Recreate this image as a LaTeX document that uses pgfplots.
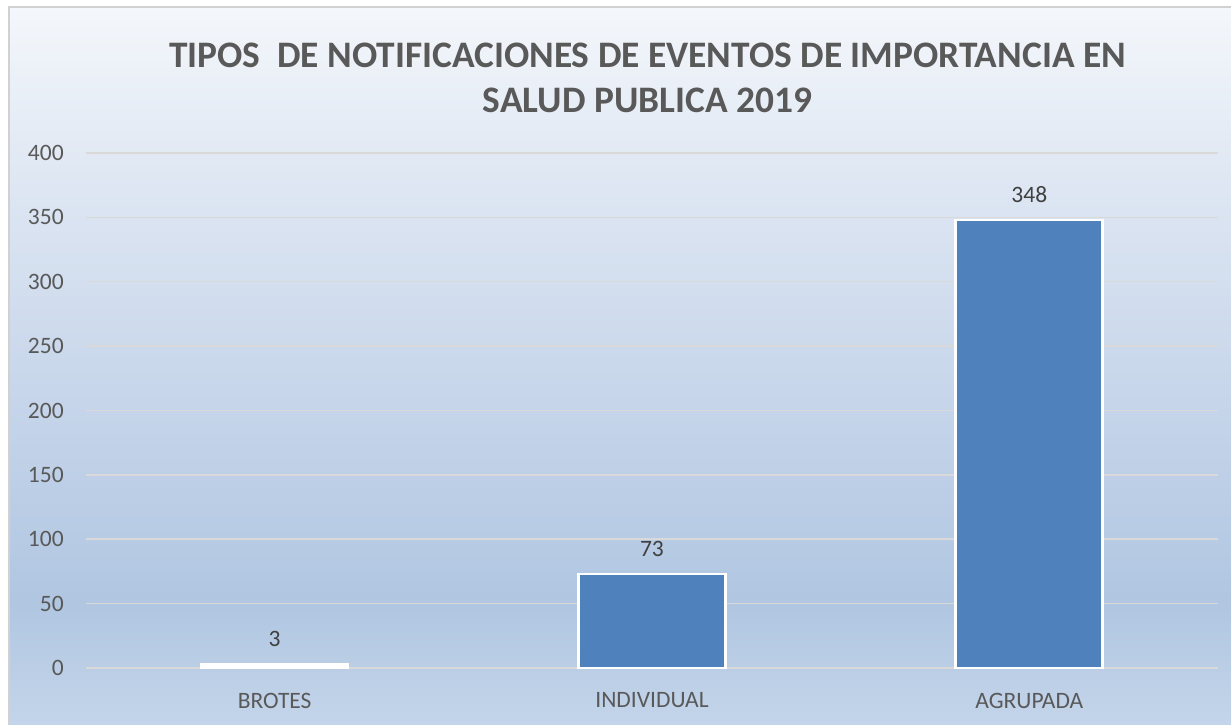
\documentclass[border=0pt]{standalone}
\usepackage{fontspec}
\setmainfont{Carlito}
\usepackage{pgfplots}
\pgfplotsset{compat=1.18}
\definecolor{txt}{HTML}{595959}
\definecolor{lbl}{HTML}{404040}
\definecolor{gridc}{HTML}{D9D9D9}
\definecolor{barc}{HTML}{4F81BD}
\definecolor{c0}{HTML}{C4D5EA}
\definecolor{c1}{HTML}{B0C6E1}
\definecolor{c2}{HTML}{C6D5EA}
\definecolor{c3}{HTML}{DCE5F2}
\definecolor{c4}{HTML}{F4F7FB}
\pgfdeclareverticalshading{bgshade}{100bp}{color(0bp)=(c0); color(25bp)=(c0); color(33.5bp)=(c1); color(47.5bp)=(c2); color(61.5bp)=(c3); color(75bp)=(c4); color(100bp)=(c4)}
\begin{document}
\begin{tikzpicture}[x=1pt,y=1pt]
\useasboundingbox (0,0) rectangle (1231,725);
\shade[shading=bgshade] (9,0) rectangle (1231,718);
\draw[color=black!18, line width=1.2pt] (9,0) -- (9,718) -- (1231,718);
\node[font=\fontsize{37.4}{45}\selectfont\bfseries, text=txt, align=center] at (647.5,647) {TIPOS\ \ DE NOTIFICACIONES DE EVENTOS DE IMPORTANCIA EN\\SALUD PUBLICA 2019};
\begin{axis}[
  at={(86pt,57pt)}, anchor=south west,
  scale only axis, width=1132pt, height=515pt,
  xmin=-0.5, xmax=2.5, ymin=0, ymax=400,
  ytick={0,50,...,400},
  xtick={0,1,2}, xticklabels={BROTES,INDIVIDUAL,AGRUPADA},
  minor xtick={-0.5,0.5,1.5,2.5},
  axis x line*=bottom, axis y line*=left,
  y axis line style={draw=none},
  x axis line style={gridc, line width=1.5pt},
  ytick style={draw=none}, xtick style={draw=none},
  minor x tick style={gridc, line width=1.5pt},
  minor tick length=7pt, tick align=outside,
  ymajorgrids, grid style={gridc, line width=1.5pt},
  /pgf/number format/assume math mode=true,
  ticklabel style={font=\fontsize{23.5}{27}\selectfont, text=txt},
  yticklabel style={xshift=-14.5pt},
  xticklabel style={yshift=-17pt},
  clip=false,
  every node near coord/.append style={font=\fontsize{23.5}{27}\selectfont, text=lbl, yshift=12.5pt},
]
\addplot[ybar, bar shift=0pt, bar width=147pt, fill=white, draw=white, line width=2.5pt,
  nodes near coords]
  coordinates {(0,3)};
\addplot[ybar, bar shift=0pt, bar width=147pt, fill=barc, draw=white, line width=2.8pt,
  nodes near coords]
  coordinates {(1,73) (2,348)};
\end{axis}
\end{tikzpicture}
\end{document}
